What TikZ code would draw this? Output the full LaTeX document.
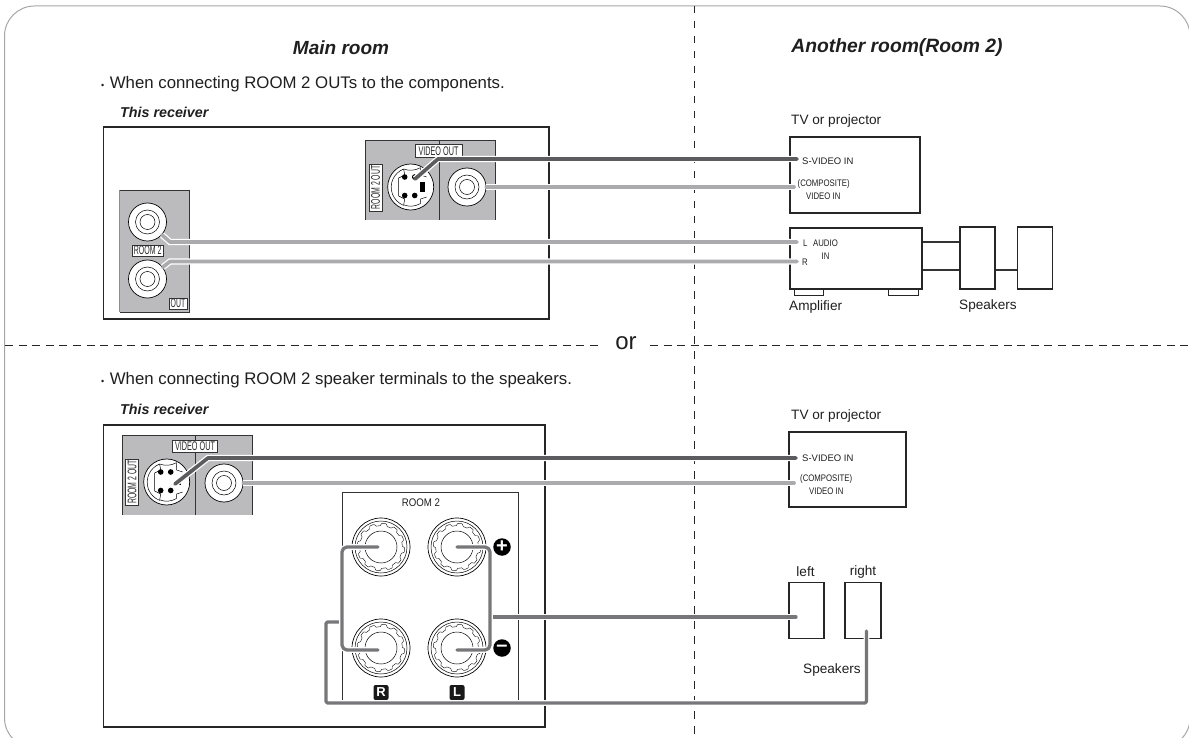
\documentclass[tikz,border=0pt]{standalone}
\usepackage{fontspec}
\usepackage{graphicx}
\setmainfont{Liberation Sans}
\newcommand\fsz[1]{\fontsize{#1}{#1}\selectfont}
\newcommand\nar[2]{\scalebox{#1}[1]{#2}}
\tikzset{
  boxed/.style={draw=black!85,line width=1.1pt,fill=white,inner sep=0pt,minimum width=#1},
  txt/.style={inner sep=0pt,text=black!88,font=\fsz{#1}},
  tag/.style={draw=black!80,line width=.6pt,fill=white,inner sep=0pt,text=black!85,font=\fsz{12.5}},
  panel/.style={fill=panelgray,draw=none},
  edge/.style={draw=black!80,line width=.9pt},
  dashv/.style={draw=black!85,line width=.8pt,dash pattern=on 7.5pt off 7.5pt},
  dashh/.style={draw=black!85,line width=.8pt,dash pattern=on 8pt off 5.6pt},
  jackout/.style={circle,draw=black,line width=.7pt,fill=white,inner sep=0pt,minimum size=#1},
  thin ring/.style={draw=black,line width=.5pt},
  halo/.style={preaction={draw=white,line width=#1}},
  cabledark/.style={draw=darkcable,line width=3.7pt,halo=6.2pt,line cap=round,line join=round},
  cablelight/.style={draw=lightcable,line width=3.7pt,halo=6.2pt,line cap=round,line join=round},
  wire/.style={draw=wirecol,line width=3.3pt,halo=5.6pt,line cap=round,line join=round,rounded corners=#1},
  badge/.style={circle,fill=black,text=white,inner sep=0pt,minimum size=17.5pt,font=\fsz{20}\bfseries},
  lrbadge/.style={rectangle,rounded corners=2pt,fill=black!90,text=white,inner sep=0pt,minimum size=15pt,font=\fsz{13}\bfseries},
  bolditalic/.style={inner sep=0pt,text=black!88,font=\fsz{#1}\bfseries\itshape},
}
\definecolor{panelgray}{HTML}{BBBBBD}
\definecolor{darkcable}{HTML}{5C5C5E}
\definecolor{lightcable}{HTML}{ABABAD}
\definecolor{wirecol}{HTML}{77777A}
\newcommand\rcajack[2]{%
  \node[jackout=38pt] (#1) at (#2) {};
  \draw[thin ring] (#1) circle (12pt);
  \draw[thin ring] (#1) circle (7.5pt);
}
\newcommand\svjack[3]{% name, centre, rect half height
  \node[jackout=46pt] (#1) at (#2) {};
  \begin{scope}[shift={(#1)}]
    \draw[thin ring] (-7,-18) arc[start angle=249,end angle=111,radius=19.5] ;
    \draw[thin ring] (-7,-18) -- (-6,-12) -- (-12,-9) -- (-12,9) -- (-6,12) -- (-7,18);
    \draw[thin ring] (-7,-18) arc[start angle=111,end angle=60,radius=19.3] -- (10,-12) -- (16,-10) (16,10) -- (10,12) -- (9.6,16.6) arc[start angle=60,end angle=111,radius=19.3];
    \fill[black] (-6,-10) circle (2.8pt) (4,-10) circle (2.8pt) (-6,8.5) circle (2.8pt) (4,8.5) circle (2.8pt);
    \fill[black] (9.5,-#3) rectangle (14.5,#3);
  \end{scope}
}
\newcommand\terminal[2]{%
  \node[jackout=58pt] (#1) at (#2) {};
  \draw[thin ring] (#1) circle (26pt);
  \draw[thin ring] (#1) circle (16pt);
  \draw[draw=black,line width=.4pt,shift={(#1)}] plot[domain=0:360,samples=241,variable=\t] ({\t}:{22.5+1.2*min(1,max(-1,2.5*sin(12*\t)))}) -- cycle;
}
\begin{document}
\begin{tikzpicture}[x=1pt,y=-1pt]
\useasboundingbox (0,0) rectangle (1189,738);
\begin{scope}
\clip (0,0) rectangle (1189,738);
\draw[draw=black!35,line width=1pt,rounded corners=30pt] (4.5,6) rectangle (1190,748);
\end{scope}

% dashed separators
\node[txt=24] (ortext) at (626,343) {or};
\coordinate (vtop) at (694,6);
\coordinate (vbot) at (694,738);
\coordinate (hl) at (5,345);
\coordinate (hr) at (1189,345);
\draw[dashv] (vtop) -- (vbot);
\draw[dashh] (hl) -- (599,345);
\draw[dashh] (650,345) -- (hr);

% headings
\node[bolditalic=19] (h1) at (341,48) {Main room};
\node[bolditalic=19.3] (h2) at (897,48) {Another room(Room 2)};
\node[txt=16.8,anchor=west] (s1) at (101,84) {{\fsz{9}•}\kern5.5pt When connecting ROOM 2 OUTs to the components.};
\node[txt=16.8,anchor=west] (s2) at (101,380) {{\fsz{9}•}\kern5.5pt When connecting ROOM 2 speaker terminals to the speakers.};
\node[bolditalic=14.3,anchor=west] (r1) at (120,112) {This receiver};
\node[bolditalic=14.3,anchor=west] (r2) at (120,409) {This receiver};

% ---------- upper receiver
\node[boxed=445.5pt,minimum height=192pt] (rcv1) at (326.25,223) {};
\fill[panel] (119.5,190) rectangle (189,312);
\draw[edge] (119.5,190) -- (189,190) -- (189,312) -- (119.5,312);
\draw[draw=black!45,line width=.4pt] (119.5,190) -- (119.5,312);
\fill[panel] (365,140) rectangle (495,220);
\draw[edge] (365,220) -- (365,140) -- (495,140) -- (495,220);
\draw[edge] (439,140) -- (439,220);
\rcajack{a1}{147.5,222}
\rcajack{a2}{147.5,279}
\node[tag,minimum width=30.5pt,minimum height=11pt] (t1) at (147.7,250.5) {\nar{.56}{ROOM 2}};
\node[tag,minimum width=18pt,minimum height=11pt] (t2) at (178,303.5) {\nar{.55}{OUT}};
\svjack{sv1}{410.7,187}{5}
\rcajack{cv1}{467,187}
\node[tag,minimum width=47pt,minimum height=12.5pt] (t3) at (438.5,151) {\nar{.58}{VIDEO OUT}};
\node[tag,rotate=90,minimum width=47pt,minimum height=13pt] (t4) at (375.5,187.5) {\nar{.55}{ROOM 2 OUT}};

% ---------- upper right devices
\node[txt=13.6,anchor=west] (tv1l) at (791,121) {TV or projector};
\node[boxed=130pt,minimum height=76pt] (tv1) at (855,175) {};
\node[txt=9.5,anchor=west] (sin1) at (802,161) {S-VIDEO IN};
\node[txt=9.5,anchor=west] (cin1) at (797.5,184) {\nar{.82}{(COMPOSITE)}};
\node[txt=9.5,anchor=west] (vin1) at (806,196) {\nar{.82}{VIDEO IN}};
\node[boxed=132pt,minimum height=61pt] (amp) at (856,258.5) {};
\node[draw=black!85,line width=.9pt,inner sep=0pt,minimum width=29pt,minimum height=6pt] (foot1) at (808.5,292) {};
\node[draw=black!85,line width=.9pt,inner sep=0pt,minimum width=30pt,minimum height=6pt] (foot2) at (903,292) {};
\node[txt=9.5,anchor=west] (lin) at (803,243) {\nar{.82}{L}};
\node[txt=9.5,anchor=west] (rin) at (802,262) {\nar{.82}{R}};
\node[txt=9.5] (ain) at (825.5,243) {\nar{.82}{AUDIO}};
\node[txt=9.5] (iin) at (825.5,256) {\nar{.82}{IN}};
\node[txt=13.6,anchor=west] (ampl) at (789,307) {Amplifier};
\node[boxed=35pt,minimum height=62pt] (sp1) at (977.5,258) {};
\node[boxed=35pt,minimum height=62pt] (sp2) at (1035,258) {};
\node[txt=13.6,anchor=west] (spl1) at (959,306) {Speakers};
\coordinate (amp a) at (amp.east |- 0,242);
\coordinate (amp b) at (amp.east |- 0,270);
\coordinate (sp a) at (sp1.west |- 0,242);
\coordinate (sp b) at (sp1.west |- 0,270);
\coordinate (sp c) at (sp1.east |- 0,270);
\coordinate (sp d) at (sp2.west |- 0,270);
\draw[edge,line width=1.1pt] (amp a) -- (sp a);
\draw[edge,line width=1.1pt] (amp b) -- (sp b);
\draw[edge,line width=1.1pt] (sp c) -- (sp d);

% ---------- upper cables
\coordinate (sv1a) at (415,179);
\coordinate (sv1b) at (438,159);
\coordinate (tv1s) at (797,159);
\coordinate (tv1c) at (794,187);
\coordinate (a1b) at (170,242);
\coordinate (a1e) at (797,242);
\coordinate (a2b) at (170,261.5);
\coordinate (a2e) at (797,261.5);
\draw[cabledark] (sv1a) -- (sv1b) -- (tv1s);
\draw[cablelight] (cv1) -- (tv1c);
\draw[cablelight] (a1) -- (a1b) -- (a1e);
\draw[cablelight] (a2) -- (a2b) -- (a2e);

% ---------- lower receiver
\node[boxed=441.5pt,minimum height=302pt] (rcv2) at (324.25,576) {};
\fill[panel] (122,435) rectangle (252,515);
\draw[edge] (122,515) -- (122,435) -- (252,435) -- (252,515);
\draw[edge] (195,435) -- (195,515);
\svjack{sv2}{166.7,482}{2.5}
\rcajack{cv2}{224,483}
\node[tag,minimum width=45pt,minimum height=12.5pt] (t5) at (195,446.5) {\nar{.58}{VIDEO OUT}};
\node[tag,rotate=90,minimum width=46pt,minimum height=13pt] (t6) at (132,482) {\nar{.55}{ROOM 2 OUT}};
\draw[edge] (342,700) -- (342,492) -- (518,492) -- (518,700);
\node[txt=11] (rm2) at (421,503) {\nar{.88}{ROOM 2}};
\terminal{tr}{381,547}
\terminal{tl}{457,547}
\terminal{br}{381,648}
\terminal{bl}{457,648}
\node[badge] (plus) at (502,547) {+};
\node[badge] (minus) at (502,648) {–};
\node[lrbadge] (rb) at (381,692.5) {R};
\node[lrbadge] (lb) at (457,692.5) {L};

% ---------- lower right devices
\node[txt=13.6,anchor=west] (tv2l) at (791,416) {TV or projector};
\node[boxed=117pt,minimum height=75pt] (tv2) at (847.5,469.5) {};
\node[txt=9.5,anchor=west] (sin2) at (802,458) {S-VIDEO IN};
\node[txt=9.5,anchor=west] (cin2) at (800,479) {\nar{.82}{(COMPOSITE)}};
\node[txt=9.5,anchor=west] (vin2) at (809,491) {\nar{.82}{VIDEO IN}};
\node[boxed=35pt,minimum height=56pt] (spl) at (806.5,610.5) {};
\node[boxed=36pt,minimum height=56pt] (spr) at (863,610.5) {};
\node[txt=13.6] (lf) at (805.5,572) {left};
\node[txt=13.6] (rg) at (863,572) {right};
\node[txt=13.6,anchor=west] (spl2) at (803,670) {Speakers};

% ---------- lower cables
\coordinate (sv2a) at (175,484);
\coordinate (sv2b) at (208,458);
\coordinate (tv2s) at (796,458);
\coordinate (tv2c) at (794,483);
\draw[cabledark] (sv2a) -- (sv2b) -- (tv2s);
\draw[cablelight] (cv2) -- (tv2c);

\coordinate (wl1) at (339,622);
\coordinate (wl2) at (326,622);
\coordinate (wl3) at (326,703);
\coordinate (wl4) at (866.5,703);
\coordinate (wl5) at (866.5,631);
\coordinate (wr1) at (493,617);
\coordinate (wr2) at (796,617);
\draw[wire=1.5pt] (wl1) -- (wl2) -- (wl3) -- (wl4) -- (wl5);
\draw[wire=0pt] (wr1) -- (wr2);
\coordinate (bl1) at (342,547);
\coordinate (bl2) at (342,650);
\coordinate (br1) at (490,547);
\coordinate (br2) at (490,650);
\coordinate (tre) at (378,547);
\coordinate (bre) at (378,650);
\coordinate (tle) at (457,547);
\coordinate (ble) at (457,650);
\draw[wire=5pt] (tre) -- (bl1) -- (bl2) -- (bre);
\draw[wire=5pt] (tle) -- (br1) -- (br2) -- (ble);
\end{tikzpicture}
\end{document}
